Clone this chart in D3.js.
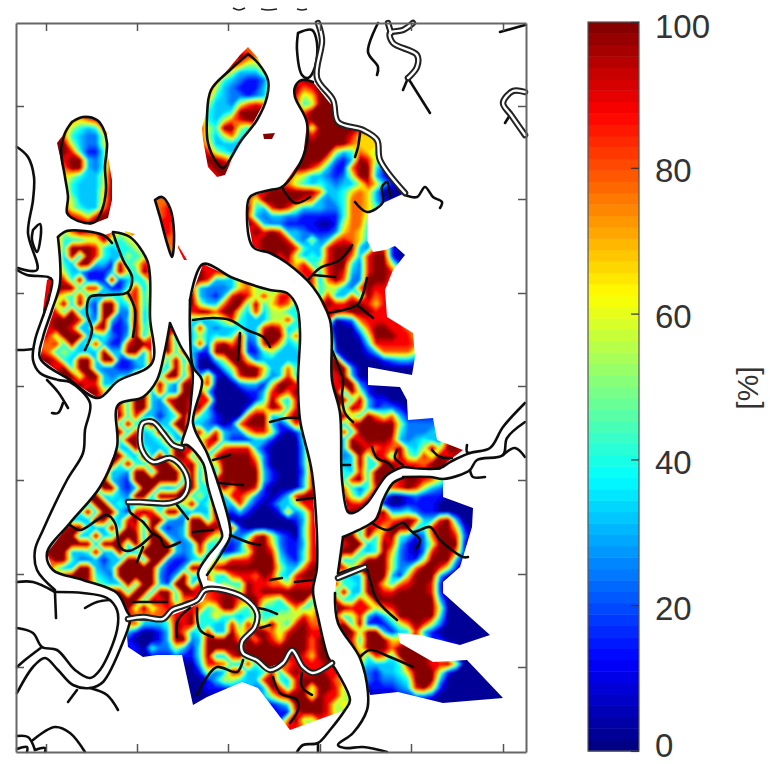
<!DOCTYPE html>
<html>
    <head>
        <script src="https://cdnjs.cloudflare.com/ajax/libs/d3/7.8.5/d3.min.js"></script>
        <title>Map with colorbar</title>
        <style>
            html, body { margin: 0; background: #fff; }
            svg { display: block; }
            text { font-family: "Liberation Sans", Arial, sans-serif; fill: #333; }
        </style>
    </head>
    <body>
        <svg id="chart" width="770" height="764"></svg>
        <script>
            // heat rows are "y x digits", one digit per 8 map units, digit is an index in levelValues
            var levelValues = [3, 14, 24, 32, 40, 55, 66, 78, 88, 100];
            var cellStep = 8;
            var xTicks = [46, 137, 228, 320, 411, 503];
            var yTicks = [106, 199, 293, 386, 480, 574, 667];
            var barTicks = [0, 20, 40, 60, 80, 100];

            var tallHeat = ["112 56 88888888","120 56 88767899","128 56 87543489","136 56 97432258","144 56 99532259","152 56 99841149","160 56 98993249","168 56 97993249","176 56 76543359","184 56 76433359","192 56 87433369","200 56 97533369","208 56 98543379","216 56 99875899","224 56 99999999"];
            var diamondHeat = ["48 240 777","56 232 89877","64 224 8975567","72 216 89533356","80 208 974321125","88 208 953211135","96 200 8743221236","104 200 8533257875","112 200 8433499998","120 200 8435789999","128 200 8549954689","136 200 853574358","144 200 863333458","152 200 98543346","160 200 9998667","168 208 89999","176 208 8899"];
            var sliverHeat = ["192 152 7777","200 152 7777","208 152 7787","216 152 8788","224 160 8877","232 160 8877","240 160 8776","248 160 7766","256 160 777"];
            var speckHeatA = ["136 264 999","144 264 999"];
            var speckHeatB = ["232 120 6677","240 120 6677"];
            var speckHeatC = ["240 176 777","248 176 788","256 176 888"];
            var stripeHeat = ["272 40 888","280 40 988","288 40 988","296 40 988","304 40 888","312 40 888"];
            var leftHeat = ["232 64 5798887566","240 56 844455954567","248 56 849998434456","256 56 839398433545","264 56 843993319458","272 56 853311139549","280 56 8849111913448","288 48 89994883114836","296 48 87548433447846","304 48 85939319934845","312 40 888493419922935","320 40 789998329313935","328 40 889983389112945","336 40 885999334213937","344 40 778493483118998","352 40 874543339339938","360 40 998439939911338","368 56 8949932211237","376 64 9959932337","384 72 8988337","392 80 89967","400 88 88"];
            var deltaHeat = ["320 160 889","328 160 889","336 160 8938","344 160 9948","352 160 39488","360 152 894938","368 152 953949","376 144 8949938","384 136 89494299","392 128 799383299","400 112 78499328998","408 112 88499323998","416 112 89483313495","424 112 93945933994","432 112 89383494395","440 112 94993349338","448 112 933943349894","456 104 89943939399495","464 104 99494489948948","472 96 893329939994938","480 88 89932199999939388","488 88 94992139932399449","496 80 899343299399994538","504 72 8939934344444459349","512 64 89493993189849933339","520 64 93339943893993229948","528 56 789943393984931239999","536 48 7899339349993993239985","544 48 8999993999494999323944","552 40 79993349339339999323844","560 48 799422313399399211344","568 48 85339932399999311399","576 64 899943299999213943","584 88 854339499319938","592 104 8994993994998","600 112 79994989477","608 120 89595787","616 128 87777"];
            var centralHeat = ["264 200 88","272 192 99889","280 192 99833367","288 192 832223675455","296 192 93213898585885","304 192 95337994946874","312 192 89979953835544","320 192 43345843335584","328 192 38323343389834","336 192 35343492399947","344 192 38289791289634","352 192 31199991145333","360 192 40035996233333","368 192 40003599963374","376 192 33710389952384","384 192 35800023315998","392 192 39300001138979","400 192 58800000149538","408 192 89300001669848","416 192 84310007993479","424 192 33210179993138","432 192 883832268851014","440 192 858931113310004","448 200 383788831000038","456 200 438999962000038","464 208 85999982000038","472 208 43999993100028","480 208 88999993100038","488 208 95969981000038","496 208 84388621013899","504 208 43338310133588","512 208 43213100016248","520 208 31000000000138","528 208 88781000000048","536 208 53422489521048","544 208 33212799621138","552 208 44113599831148","560 208 85588899942148","568 208 58999999953379","576 208 74378879843899","584 208 84544988775888","592 216 8885989999999","600 240 89965489948","608 248 9944447458","616 256 544555868","624 256 759548977","632 248 7997589988","640 240 89798699979","648 240 899999999799","656 248 99999998699","664 256 899999888999"];
            var southHeat = ["600 208 789977","608 184 8874599548","616 176 88944644345","624 128 77333498944338485","632 128 3100139734833957","640 128 1000139923999975","648 128 1104225314999998","656 144 01112114933894899","664 184 0038874384848","672 184 0015238833484898898","680 184 00013554338943899997","688 184 000111223239848959985","696 192 00000000035899959885","704 256 11124999985","712 272 111899985","720 280 17955","728 288 88"];
            var northHeat = ["80 296 899","88 296 9789","96 296 85699","104 296 845999","112 296 8799999","120 304 899999","128 304 959999988","136 304 9899998666","144 304 9999997666","152 304 9999534765","160 296 899962139853","168 288 8998631179941","176 288 865332125993100","184 264 8887543432335863100","192 248 78899999973346763000","200 248 859999987323477631","208 248 9438985333224776","216 248 8323322111114775","224 248 9832211110015774","232 248 8989833211126764","240 248 9899983252378763","248 248 889999843389993288100","256 264 898953438997389910","264 280 7868458994289951","272 296 7884898328998","280 304 783797229997","288 312 8455327988","296 312 8483374978","304 320 798899868","312 320 889899988","320 328 80127888887","328 328 30004799887","336 328 500015999886","344 328 900003888887","352 328 910001377775","360 328 891000012332","368 328 899200000000","376 328 889300000000","384 336 8992100000","392 336 9395100000","400 336 9949311000","408 336 9498312210","416 336 8954975731111","424 336 9389999952222","432 336 3839999942223","440 336 3398999832343289","448 336 33998787943595998","456 336 423949849548598","464 336 43394399888799","472 336 5438499","480 336 848949","488 344 74248","496 344 85379","504 344 9889","512 344 899"];
            var eastHeat = ["480 392 7899875","488 384 778985321","496 376 43001211100","504 376 3100111100000","512 368 389334211000000","520 368 48878983389300","528 344 88398699944899610","536 344 99494894312799820","544 336 889934983102599910","552 336 89943496210289971","560 336 93459995211599930","568 336 88599995237998510","576 336 5433999316999300","584 336 8443996478998100","592 336 4933998899998100","600 336 84485999999993000","608 336 998885789999950000","616 336 8458313599999400000","624 344 949111357985200000","632 344 995993133831000000","640 352 84999668851","648 352 95999799985","656 360 848749999853000","664 360 5333349998895000","672 360 32133469995100000","680 368 212234999300000000","688 368 1111238961000000000","696 368 0000112210000000000","704 416 000000000000"];

            // island extents on the map
            var tallMask = [[70,122],[82,117],[100,121],[107,133],[108,157],[112,180],[112,200],[108,218],[90,225],[72,218],[66,213],[68,197],[63,170],[57,143],[63,135]];
            var diamondMask = [[248,47],[257,57],[268,77],[267,97],[253,123],[233,157],[225,175],[217,177],[208,167],[203,140],[202,128],[207,110],[212,88],[230,67],[240,55]];
            var sliverMask = [[155,200],[162,197],[170,208],[174,233],[172,257],[167,243],[160,217]];
            var speckMaskA = [[263,134],[275,133],[272,139],[264,139]];
            var speckMaskB = [[125,231],[135,234],[132,236],[125,233]];
            var speckMaskC = [[178,245],[187,260],[184,260],[178,248]];
            var stripeMask = [[47,280],[52,277],[50,300],[44,317],[43,310]];
            var leftMask = [[60,234],[67,229],[88,231],[105,235],[113,232],[130,237],[147,260],[150,277],[150,317],[152,363],[118,381],[98,398],[70,380],[40,358],[45,337],[55,307],[60,283]];
            var deltaMask = [[170,323],[180,345],[192,367],[191,400],[188,423],[182,445],[187,445],[203,463],[208,487],[220,527],[222,537],[207,557],[198,573],[202,588],[200,597],[185,603],[170,610],[163,617],[133,618],[128,613],[117,593],[83,580],[53,570],[47,553],[70,523],[100,487],[117,447],[118,405],[143,397],[157,380],[165,350]];
            var centralMask = [[203,264],[233,278],[270,290],[287,293],[297,307],[300,333],[298,380],[300,420],[312,473],[317,567],[313,590],[318,617],[328,657],[332,663],[315,672],[303,668],[292,650],[283,662],[270,667],[247,655],[240,647],[257,620],[257,607],[233,588],[207,580],[207,570],[230,537],[230,527],[217,480],[207,453],[193,423],[202,380],[193,367],[190,333],[190,300]];
            var southMask = [[128,622],[135,619],[163,621],[172,615],[190,608],[203,601],[208,590],[233,593],[253,608],[256,625],[240,645],[243,655],[270,672],[283,664],[292,651],[303,670],[313,674],[332,664],[350,700],[345,710],[290,730],[258,688],[242,682],[207,697],[193,705],[182,655],[157,655],[143,657],[128,647],[127,637]];
            var northMask = [[302,80],[313,82],[333,107],[338,125],[363,132],[377,140],[380,160],[405,193],[383,203],[368,213],[367,240],[373,252],[385,250],[395,246],[405,255],[393,270],[385,290],[387,317],[413,333],[415,357],[412,375],[368,367],[368,385],[400,387],[407,400],[408,420],[433,418],[437,440],[463,450],[447,462],[440,470],[403,467],[387,475],[367,503],[353,513],[348,512],[342,480],[340,413],[332,380],[330,320],[313,287],[287,263],[270,253],[253,247],[247,213],[250,197],[270,190],[282,187],[303,157],[307,123],[295,97],[295,87]];
            var eastMask = [[373,523],[383,500],[393,483],[403,478],[430,477],[443,480],[443,497],[473,508],[472,527],[460,567],[443,582],[443,593],[490,635],[460,645],[420,635],[398,633],[400,643],[433,662],[467,660],[503,698],[443,703],[398,692],[370,695],[360,658],[338,623],[335,593],[337,573],[343,537]];

            // black banks and creeks
            var tallBank = [[72,122],[83,117],[97,120],[103,128],[107,143],[105,167],[106,190],[102,210],[95,222],[85,223],[72,218],[67,213],[68,197],[65,177],[61,150],[65,133],[72,122]];
            var diamondBank = [[248,54],[258,63],[268,80],[267,97],[257,120],[240,142],[223,168],[217,163],[208,143],[207,117],[211,90],[230,70],[248,54]];
            var sliverBank = sliverMask.concat([[155,200]]);
            var leftBank = [[58,237],[67,231],[103,235],[112,243]];
            var leftBankB = [[113,232],[130,237],[147,260],[150,277],[150,317],[152,363],[118,381],[98,398],[70,380],[40,358],[43,337],[52,310],[60,283],[58,237]];
            var leftCreekA = [[113,233],[123,260],[132,277],[128,292],[107,295],[90,297],[87,313],[92,330],[85,350]];
            var leftCreekB = [[128,293],[135,310],[133,337]];
            var deltaBank = deltaMask.concat([[170,323]]);
            var deltaCreekA = [[128,502],[130,512],[143,522],[152,533],[160,538],[165,547],[180,542]];
            var deltaCreekB = [[177,505],[188,519]];
            var deltaCreekC = [[70,525],[80,530],[97,520],[107,515],[115,523],[120,547],[127,551],[138,547],[152,535]];
            var deltaCreekD = [[143,547],[137,562]];
            var deltaCreekE = [[133,602],[167,602]];
            var centralBank = [[190,300],[203,264],[233,278],[270,290],[287,293],[297,307],[300,333],[298,380],[300,420],[312,473],[317,567],[313,590],[318,617],[328,657],[332,663]];
            var centralBankB = [[207,575],[230,537],[230,527],[217,480],[207,453],[193,423],[202,380],[193,367],[190,333],[190,300]];
            var centralCreekA = [[193,320],[213,318],[230,320],[247,330],[263,337],[270,347]];
            var centralCreekB = [[240,333],[238,360]];
            var centralCreekC = [[213,460],[230,455]];
            var centralCreekD = [[218,483],[243,485]];
            var centralCreekE = [[230,535],[250,543],[260,545]];
            var centralCreekF = [[193,532],[213,530]];
            var centralCreekG = [[270,422],[287,418],[298,418]];
            var centralCreekH = [[297,500],[313,498]];
            var centralCreekI = [[270,580],[282,578]];
            var centralCreekJ = [[295,582],[312,580]];
            var centralCreekK = [[258,608],[267,610],[277,614]];
            var centralCreekL = [[260,628],[270,625]];
            var southCreekA = [[190,608],[178,620],[177,637]];
            var southCreekB = [[197,608],[200,630],[213,637]];
            var southCreekC = [[197,695],[207,677],[217,667],[237,672],[243,660]];
            var southCreekD = [[273,677],[280,693],[297,700],[298,710],[290,723]];
            var southCreekE = [[302,673],[302,687],[312,695]];
            var southBank = [[332,664],[350,700],[345,710],[330,730],[318,743],[303,745],[297,752]];
            var northBank = [[403,467],[387,475],[367,503],[353,513],[348,512],[342,480],[340,413],[332,380],[330,320],[313,287],[287,263],[270,253],[253,247],[247,213],[250,197],[270,190],[282,187],[303,157],[307,123],[295,97],[295,87],[302,80],[313,82]];
            var northCreekA = [[360,133],[358,147],[355,157]];
            var northCreekB = [[355,202],[367,212],[383,202],[382,187],[387,182],[390,197]];
            var northTail = [[405,195],[417,197],[425,187],[433,197],[442,202],[440,208]];
            var northCreekC = [[282,187],[295,203],[310,197]];
            var northCreekD = [[352,245],[340,260],[320,268],[308,280]];
            var northCreekE = [[313,275],[335,277]];
            var northCreekF = [[367,278],[362,297],[357,305],[328,313]];
            var northCreekG = [[357,305],[373,318]];
            var northCreekH = [[332,350],[340,370],[343,380],[342,397],[345,413],[353,422]];
            var northCreekI = [[372,447],[377,458],[388,463],[393,468]];
            var northCreekJ = [[397,450],[395,458],[403,465]];
            var northCreekK = [[432,450],[440,457],[452,458]];
            var northCreekL = [[342,465],[350,465]];
            var eastBank = [[343,537],[370,524],[377,518],[383,500],[393,483],[403,478]];
            var eastBankB = [[343,537],[338,573]];
            var eastBankC = [[335,593],[338,623],[360,658],[368,693],[367,710],[353,733],[338,745],[345,748],[363,747],[387,752]];
            var eastCreekA = [[338,574],[365,567],[370,580],[377,600],[397,620]];
            var eastCreekB = [[372,523],[387,530],[403,523],[413,532],[430,527],[440,540],[463,557],[468,557]];
            var eastCreekC = [[413,533],[420,540],[417,548]];
            var eastCreekD = [[360,657],[370,650],[390,657],[413,667]];
            var outerA = [[17,147],[28,157],[34,177],[33,200],[28,233],[37,270],[18,268]];
            var outerB = [[33,230],[40,224],[41,233],[37,252],[32,240],[33,230]];
            var outerC = [[17,270],[27,275],[48,277],[52,280],[45,310],[35,340],[33,360],[40,373],[58,380],[70,382],[90,403],[85,430],[83,453],[67,480],[43,530],[35,550],[37,570],[55,590]];
            var outerD = [[17,350],[22,350],[33,349]];
            var outerE = [[47,380],[58,392],[68,408]];
            var outerF = [[63,403],[58,413],[52,413]];
            var outerG = [[17,582],[33,582],[55,592]];
            var outerH = [[55,592],[83,593],[107,598],[117,610],[117,630],[100,670],[90,678],[75,670],[57,650],[42,647],[33,633],[17,628]];
            var outerI = [[55,593],[56,618]];
            var outerJ = [[85,608],[97,602],[110,600]];
            var outerK = [[42,647],[25,660],[17,667]];
            var outerL = [[17,693],[33,667],[45,658],[58,670],[73,685],[90,688],[103,682],[125,637],[130,622]];
            var outerM = [[77,690],[68,702]];
            var outerN = [[90,688],[107,695],[118,710]];
            var outerO = [[33,740],[55,727],[70,733],[85,752]];
            var outerP = [[17,736],[28,737],[35,750]];
            var outerQ = [[17,749],[27,747],[27,752]];
            var outerR = [[35,750],[45,748],[45,752]];
            var outerS = [[318,752],[318,745]];
            var topLoop = [[298,33],[312,30],[317,43],[315,67],[308,78],[302,75],[297,50],[298,33]];
            var topCreekA = [[378,23],[368,52],[378,67],[377,75]];
            var topCreekB = [[408,78],[430,113]];
            var topCreekC = [[408,78],[403,90]];
            var topCreekD = [[500,32],[525,25]];
            var topCreekE = [[510,115],[505,123]];
            var riverEastA = [[403,467],[440,468],[450,462],[470,453],[490,448],[503,427],[525,403]];
            var riverEastB = [[403,477],[430,477],[443,479],[460,475],[470,470],[477,460],[503,455],[507,438],[525,422]];
            var riverEastC = [[470,470],[473,477],[485,477]];
            var riverEastD = [[503,455],[515,448],[525,457]];
            var riverEastE = [[467,445],[467,452],[470,453]];
            var titleScrapA = [[233,8],[239,10],[245,8]];
            var titleScrapB = [[261,9],[268,10],[277,9]];
            var titleScrapC = [[297,9],[302,10],[307,9]];

            // channels drawn as a dark line with a white core
            var doubleMeander = [[182,448],[173,445],[163,433],[153,422],[143,423],[140,433],[142,450],[153,462],[170,458],[182,467],[188,483],[183,497],[170,503],[140,502],[128,502]];
            var doubleSouth = [[128,619],[143,617],[163,619],[172,610],[183,606],[197,600],[205,590],[227,591],[247,600],[257,613],[255,627],[242,642],[243,653],[257,660],[270,670],[283,663],[292,650],[303,667],[313,673],[332,663]];
            var doubleNorth = [[318,23],[322,40],[317,78],[333,100],[338,122],[363,130],[377,140],[380,160],[405,193]];
            var doubleTop = [[413,23],[403,30],[390,33],[393,43],[417,55],[417,67],[408,78]];
            var doubleTopB = [[388,23],[391,33]];
            var doubleRight = [[525,92],[513,91],[503,103],[511,115],[525,135]];
            var doubleEast = [[338,578],[365,567]];

            var heatLayers = [
                [tallHeat, tallMask], [diamondHeat, diamondMask], [sliverHeat, sliverMask],
                [speckHeatA, speckMaskA], [speckHeatB, speckMaskB], [speckHeatC, speckMaskC],
                [stripeHeat, stripeMask], [leftHeat, leftMask], [deltaHeat, deltaMask],
                [centralHeat, centralMask], [southHeat, southMask], [northHeat, northMask], [eastHeat, eastMask]
            ];
            var singleLines = [
                tallBank, diamondBank, sliverBank, leftBank, leftBankB, leftCreekA, leftCreekB, deltaBank,
                deltaCreekA, deltaCreekB, deltaCreekC, deltaCreekD, deltaCreekE, centralBank, centralBankB,
                centralCreekA, centralCreekB, centralCreekC, centralCreekD, centralCreekE, centralCreekF,
                centralCreekG, centralCreekH, centralCreekI, centralCreekJ, centralCreekK, centralCreekL,
                southCreekA, southCreekB, southCreekC,
                southCreekD, southCreekE, southBank, northBank, northCreekA, northCreekB, northTail, northCreekC,
                northCreekD, northCreekE, northCreekF, northCreekG, northCreekH, northCreekI, northCreekJ,
                northCreekK, northCreekL, eastBank, eastBankB, eastBankC, eastCreekA, eastCreekB, eastCreekC,
                eastCreekD, outerA, outerB, outerC, outerD, outerE, outerF, outerG, outerH, outerI, outerJ, outerK,
                outerL, outerM, outerN, outerO, outerP, outerQ, outerR, outerS, topLoop, topCreekA, topCreekB,
                topCreekC, topCreekD, topCreekE, riverEastA, riverEastB, riverEastC, riverEastD, riverEastE
            ];
            var doubleLines = [doubleMeander, doubleSouth, doubleNorth, doubleTop, doubleTopB, doubleRight, doubleEast];
            var titleScraps = [titleScrapA, titleScrapB, titleScrapC];

            var svg = d3.select("#chart");
            var xScale = d3.scaleLinear().domain([16, 526]).range([16, 526]);
            var yScale = d3.scaleLinear().domain([23, 752]).range([23, 752]);
            var barScale = d3.scaleLinear().domain([0, 100]).range([751, 22]);

            // 64 step jet, same as the colorbar
            function jet(v) {
                var idx = Math.min(63, Math.max(0, Math.floor(v / 100 * 64)));
                var t = (idx + 0.5) / 64;
                function ch(c) { return Math.round(255 * Math.max(0, Math.min(1, 1.5 - Math.abs(4 * t - c)))); }
                return "rgb(" + ch(3) + "," + ch(2) + "," + ch(1) + ")";
            }

            function parseRows(rows) {
                return rows.map(function(r) {
                    var p = r.split(" ");
                    return { y: +p[0], x: +p[1], digits: p[2] };
                });
            }

            // puts the rows on a regular grid, the empty cells take the value of their neighbours
            function buildGrid(rows, mask) {
                var parsed = parseRows(rows);
                var x0 = Math.min(d3.min(parsed, function(d) { return d.x; }), d3.min(mask, function(d) { return d[0]; })) - 24;
                var y0 = Math.min(d3.min(parsed, function(d) { return d.y; }), d3.min(mask, function(d) { return d[1]; })) - 24;
                x0 = Math.floor(x0 / cellStep) * cellStep;
                y0 = Math.floor(y0 / cellStep) * cellStep;
                var x1 = Math.max(d3.max(parsed, function(d) { return d.x + d.digits.length * cellStep; }), d3.max(mask, function(d) { return d[0]; })) + 24;
                var y1 = Math.max(d3.max(parsed, function(d) { return d.y + cellStep; }), d3.max(mask, function(d) { return d[1]; })) + 24;
                var n = Math.ceil((x1 - x0) / cellStep);
                var m = Math.ceil((y1 - y0) / cellStep);
                var values = new Array(n * m).fill(null);
                parsed.forEach(function(row) {
                    var j = (row.y - y0) / cellStep;
                    row.digits.split("").forEach(function(c, k) {
                        values[j * n + (row.x - x0) / cellStep + k] = levelValues[+c];
                    });
                });
                var missing = true;
                while (missing) {
                    missing = false;
                    var next = values.slice();
                    for (var j = 0; j < m; j++) {
                        for (var i = 0; i < n; i++) {
                            if (values[j * n + i] !== null) continue;
                            var sum = 0, cnt = 0;
                            for (var dj = -1; dj <= 1; dj++) {
                                for (var di = -1; di <= 1; di++) {
                                    var a = i + di, b = j + dj;
                                    if (a < 0 || b < 0 || a >= n || b >= m) continue;
                                    if (values[b * n + a] !== null) { sum += values[b * n + a]; cnt++; }
                                }
                            }
                            if (cnt) next[j * n + i] = sum / cnt; else missing = true;
                        }
                    }
                    values = next;
                }
                return { values: values, n: n, m: m, x0: x0, y0: y0 };
            }

            var defs = svg.append("defs");
            defs.append("filter")
                .attr("id", "soft")
                .attr("x", "-5%").attr("y", "-5%").attr("width", "110%").attr("height", "110%")
                .append("feGaussianBlur")
                .attr("stdDeviation", 0.8);
            defs.append("filter").attr("id", "soft2")
                .attr("filterUnits", "userSpaceOnUse")
                .attr("x", 0).attr("y", 0).attr("width", 770).attr("height", 764)
                .append("feGaussianBlur").attr("stdDeviation", 0.4);

            var polyLine = d3.line()
                .x(function(d) { return xScale(d[0]); })
                .y(function(d) { return yScale(d[1]); });
            var riverLine = d3.line()
                .x(function(d) { return xScale(d[0]); })
                .y(function(d) { return yScale(d[1]); })
                .curve(d3.curveCatmullRom.alpha(0.5));

            var thresholds = d3.range(0, 100, 100 / 64);
            var heat = svg.append("g").attr("class", "heat");

            heatLayers.forEach(function(layer, idx) {
                var grid = buildGrid(layer[0], layer[1]);
                var contours = d3.contours()
                    .size([grid.n, grid.m])
                    .thresholds(thresholds)(grid.values);
                var path = d3.geoPath(d3.geoTransform({
                    point: function(px, py) {
                        this.stream.point(
                            xScale(grid.x0 + (px - 0.5) * cellStep),
                            yScale(grid.y0 + (py - 0.5) * cellStep)
                        );
                    }
                }));

                defs.append("clipPath")
                    .attr("id", "mask" + idx)
                    .append("path")
                    .attr("d", polyLine(layer[1]) + "Z");

                heat.append("g")
                    .attr("clip-path", "url(#mask" + idx + ")")
                    .append("g")
                    .attr("filter", "url(#soft)")
                    .selectAll("path")
                    .data(contours)
                    .enter()
                    .append("path")
                    .attr("d", path)
                    .attr("fill", function(d) { return jet(d.value + 50 / 64); });
            });

            var lines = svg.append("g").attr("fill", "none").attr("stroke-linecap", "round").attr("stroke-linejoin", "round").attr("filter", "url(#soft2)");

            lines.selectAll(".bank")
                .data(singleLines)
                .enter()
                .append("path")
                .attr("class", "bank")
                .attr("d", riverLine)
                .attr("stroke", "#111")
                .attr("stroke-width", 2.6);

            lines.selectAll(".channel")
                .data(doubleLines)
                .enter()
                .append("path")
                .attr("class", "channel")
                .attr("d", riverLine)
                .attr("stroke", "#222")
                .attr("stroke-width", 6.5);

            lines.selectAll(".core")
                .data(doubleLines)
                .enter()
                .append("path")
                .attr("class", "core")
                .attr("d", riverLine)
                .attr("stroke", "#fff")
                .attr("stroke-width", 2.4);

            svg.append("g")
                .attr("fill", "none")
                .selectAll("path")
                .data(titleScraps)
                .enter()
                .append("path")
                .attr("d", riverLine)
                .attr("stroke", "#222")
                .attr("stroke-width", 1.6);

            // frame with inward ticks, no labels
            function styleAxis(g) {
                g.select(".domain").attr("stroke", "#666").attr("stroke-width", 2);
                g.selectAll(".tick line").attr("stroke", "#555").attr("stroke-width", 1.5);
                g.selectAll("text").remove();
            }
            svg.append("g").attr("transform", "translate(0," + yScale(23) + ")")
                .call(d3.axisTop(xScale).tickValues(xTicks).tickSize(-8).tickSizeOuter(0)).call(styleAxis);
            svg.append("g").attr("transform", "translate(0," + yScale(752) + ")")
                .call(d3.axisBottom(xScale).tickValues(xTicks).tickSize(-8).tickSizeOuter(0)).call(styleAxis);
            svg.append("g").attr("transform", "translate(" + xScale(16) + ",0)")
                .call(d3.axisLeft(yScale).tickValues(yTicks).tickSize(-8).tickSizeOuter(0)).call(styleAxis);
            svg.append("g").attr("transform", "translate(" + xScale(526) + ",0)")
                .call(d3.axisRight(yScale).tickValues(yTicks).tickSize(-8).tickSizeOuter(0)).call(styleAxis);

            // colorbar
            var barLeft = 588, barRight = 639;
            var barSteps = d3.range(0, 64);
            svg.append("g")
                .selectAll("rect")
                .data(barSteps)
                .enter()
                .append("rect")
                .attr("x", barLeft)
                .attr("width", barRight - barLeft)
                .attr("y", function(d) { return barScale((d + 1) * 100 / 64); })
                .attr("height", function(d) { return barScale(d * 100 / 64) - barScale((d + 1) * 100 / 64) + 0.5; })
                .attr("fill", function(d) { return jet((d + 0.5) * 100 / 64); });

            svg.append("rect")
                .attr("x", barLeft).attr("y", barScale(100))
                .attr("width", barRight - barLeft).attr("height", barScale(0) - barScale(100))
                .attr("fill", "none").attr("stroke", "#555").attr("stroke-width", 1.2);

            var barAxis = svg.append("g")
                .attr("transform", "translate(" + barRight + ",0)")
                .call(d3.axisRight(barScale).tickValues(barTicks).tickSize(-8).tickSizeOuter(0));
            barAxis.select(".domain").remove();
            barAxis.selectAll(".tick line").attr("stroke", "#333").attr("stroke-width", 1.2);
            barAxis.selectAll(".tick text")
                .attr("x", 16)
                .attr("y", function(d) { return d === 100 ? 4 : (d === 0 ? -6 : 2); })
                .attr("dy", "0.36em")
                .attr("font-size", 33)
                .attr("font-family", "Liberation Sans")
                .attr("fill", "#333");

            svg.append("text")
                .attr("transform", "translate(758,388) rotate(-90)")
                .attr("text-anchor", "middle")
                .attr("font-size", 30)
                .text("[%]");
        </script>
    </body>
</html>
